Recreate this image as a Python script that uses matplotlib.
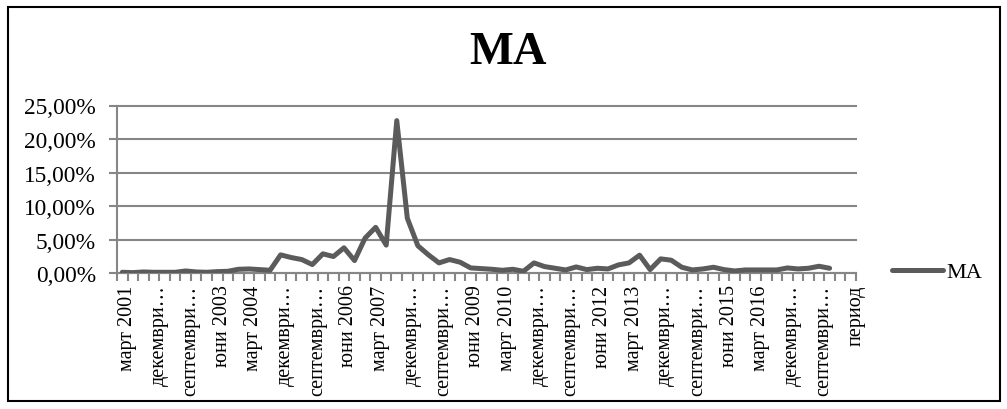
import matplotlib
matplotlib.use("Agg")
import matplotlib.pyplot as plt
import matplotlib.transforms as mtransforms
from matplotlib.patches import Rectangle
from matplotlib.ticker import FuncFormatter

plt.rcParams['font.family'] = ['Liberation Serif', 'DejaVu Serif']

title = "MA"
series_name = "MA"

# quarterly MA values in % (март 2001 ... декември 2017)
ma_values = [
    0.15, 0.10, 0.20, 0.15, 0.15, 0.15, 0.35, 0.20, 0.15, 0.25,
    0.30, 0.60, 0.65, 0.55, 0.45, 2.75, 2.35, 2.05, 1.30, 2.90,
    2.50, 3.80, 1.90, 5.25, 6.85, 4.20, 22.75, 8.20, 4.10, 2.75,
    1.55, 2.05, 1.65, 0.80, 0.70, 0.60, 0.45, 0.60, 0.30, 1.55,
    1.00, 0.75, 0.50, 0.95, 0.55, 0.75, 0.65, 1.25, 1.55, 2.70,
    0.55, 2.15, 1.95, 0.90, 0.50, 0.65, 0.90, 0.55, 0.35, 0.50,
    0.50, 0.50, 0.50, 0.80, 0.65, 0.75, 1.05, 0.75,
]
n_categories = 70  # 68 quarters + empty + "период"

# every third category gets a label (Excel skips the rest)
tick_labels = [
    "март 2001", "декември…", "септември…", "юни 2003", "март 2004",
    "декември…", "септември…", "юни 2006", "март 2007", "декември…",
    "септември…", "юни 2009", "март 2010", "декември…", "септември…",
    "юни 2012", "март 2013", "декември…", "септември…", "юни 2015",
    "март 2016", "декември…", "септември…", "период",
]
tick_positions = list(range(0, n_categories, 3))
y_ticks = [0, 5, 10, 15, 20, 25]

grey = '#868686'
line_col = '#5b5b5b'

fig = plt.figure(figsize=(10.07, 4.10), dpi=100)
ax = fig.add_axes([117/1007, 1 - 274.3/410, 739/1007, 167.8/410])

ax.plot(range(len(ma_values)), ma_values, color=line_col, lw=3.6,
        solid_joinstyle='round', solid_capstyle='round', label=series_name,
        zorder=3)

ax.set_xlim(-0.5, n_categories - 0.5)
ax.set_ylim(0, 25)
ax.set_yticks(y_ticks)
ax.yaxis.set_major_formatter(FuncFormatter(lambda v, p: f"{v:.2f}%".replace('.', ',')))
ax.yaxis.grid(True, color=grey, lw=1.5, zorder=1)
for gl in ax.get_ygridlines():
    gl.set_clip_on(False)

ax.set_xticks(tick_positions)
ax.set_xticklabels(tick_labels, rotation=90)
ax.set_xticks([i - 0.5 for i in range(n_categories + 1)], minor=True)
ax.tick_params(axis='x', which='major', length=0, pad=8, labelsize=14.5)
ax.tick_params(axis='x', which='minor', length=6, width=1.5, color=grey)
ax.tick_params(axis='y', length=6, width=1.5, color=grey, labelsize=16.8, pad=9)

offset = mtransforms.ScaledTranslation(5/100, 0, fig.dpi_scale_trans)
for lbl in ax.get_xticklabels():
    lbl.set_transform(lbl.get_transform() + offset)

for s in ['top', 'right']:
    ax.spines[s].set_visible(False)
for s in ['left', 'bottom']:
    ax.spines[s].set_color(grey)
    ax.spines[s].set_linewidth(1.5)

fig.text(508/1007, 1 - 53/410, title, fontsize=33.5, fontweight='bold',
         ha='center', va='center')

fig.legend(loc='center left', bbox_to_anchor=(872/1007, 1 - 273/410),
           frameon=False, fontsize=16, handlelength=2.3, handletextpad=0.15)

fig.patches.append(Rectangle((8/1007, 8/410), 992/1007, 394/410,
                             transform=fig.transFigure, fill=False,
                             ec='black', lw=1.5))

fig.savefig('out.png', dpi=100)
